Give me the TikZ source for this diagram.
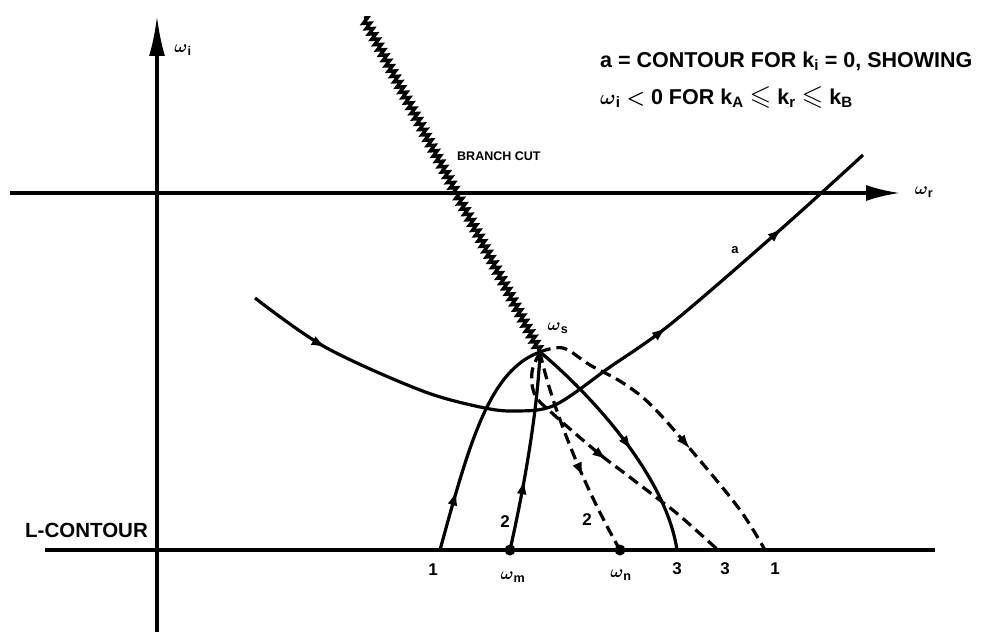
\documentclass[tikz,border=0pt]{standalone}
\usepackage{amssymb}
\usepackage{fontspec}
\setmainfont{Liberation Sans}
\usetikzlibrary{arrows.meta,decorations.pathmorphing,decorations.markings}
\begin{document}
\begin{tikzpicture}[x=1pt,y=-1pt,
  axis/.style={line width=3.2pt},
  curve/.style={line width=3.2pt},
  dcurve/.style={line width=3.2pt, dash pattern=on 11pt off 6pt},
  midarrow/.style={postaction={decorate,decoration={markings,mark=at position #1 with {\arrow{Latex[length=15pt,width=10pt]}}}}},
  lbl/.style={font=\fontsize{17}{20}\selectfont\bfseries\boldmath, inner sep=0pt},
  wlbl/.style={font=\fontsize{18}{20}\selectfont\bfseries\boldmath, inner sep=0pt},
  big/.style={font=\fontsize{21.5}{25}\selectfont\bfseries\boldmath, inner sep=0pt},
]
\useasboundingbox (0,0) rectangle (990,634);
% key points
\coordinate (ws) at (540,352);
\coordinate (p1) at (440,550);
\coordinate (wm) at (510,550);
\coordinate (wn) at (620,550);
\coordinate (p3a) at (677,550);
\coordinate (p3b) at (718,550);
\coordinate (p1b) at (765,550);
\coordinate (vb) at (157,632);
\coordinate (vt) at (157,16);
\coordinate (hl) at (10,193);
\coordinate (hr) at (900,193);
\coordinate (ll) at (45,550);
\coordinate (lr) at (935,550);
\coordinate (bc) at (364,18);
% axes
\draw[axis,-{Latex[length=40pt,width=16pt]}] (vb) -- (vt);
\draw[axis,-{Latex[length=34pt,width=16pt]}] (hl) -- (hr);
\draw[axis] (ll) -- (lr);
% branch cut
\draw[line width=3.4pt, decorate, decoration={zigzag, segment length=6pt, amplitude=3.2pt}] (bc) -- (ws);
% contour a
\draw[curve, midarrow=0.12, midarrow=0.64, midarrow=0.85]
  plot[smooth,tension=0.55] coordinates {(255,298) (325,347) (420,390) (480,407) (515,411) (555,405) (610,367) (672,323) (780,230) (863,155)};
% solid contours
\draw[curve, midarrow=0.27] (p1) .. controls (470,440) and (490,370) .. (ws);
\draw[curve, midarrow=0.36] (wm) .. controls (528,470) and (538,400) .. (ws);
\draw[curve, midarrow=0.55] (ws) .. controls (580,385) and (665,470) .. (p3a);
% dashed contours
\draw[dcurve, midarrow=0.62] (ws) .. controls (550,400) and (580,480) .. (wn);
\draw[dcurve, midarrow=0.5] plot[smooth,tension=0.6] coordinates {(540,352) (532,372) (535,395) (552,413) (597,452) (627,475) (657,498) (680,516) (718,550)};
\draw[dcurve, midarrow=0.6] plot[smooth,tension=0.6] coordinates {(540,352) (563,348) (590,365) (623,383) (653,407) (697,457) (740,510) (765,550)};
% points
\fill (wm) circle[radius=5.5pt];
\fill (wn) circle[radius=5.5pt];
% labels
\node[wlbl] (li) at (183,50) {$\omega$\textsubscript{i}};
\node[wlbl] (lr2) at (924,192) {$\omega$\textsubscript{r}};
\node[wlbl] (ls) at (558,328) {$\omega$\textsubscript{s}};
\node[lbl, font=\fontsize{12.5}{15}\selectfont\bfseries, anchor=base west] (bcl) at (457,160) {BRANCH CUT};
\node[lbl, font=\fontsize{20.5}{22}\selectfont\bfseries, anchor=base west] (lc) at (25,537) {L-CONTOUR};
\node[big, anchor=base west] (t1) at (600,67) {a = CONTOUR FOR k\textsubscript{i} = 0, SHOWING};
\node[big, anchor=base west] (t2) at (600,104) {$\omega$\textsubscript{i} $<$ 0 FOR k\textsubscript{A} \scalebox{1.3}{$\leqslant$} k\textsubscript{r} \scalebox{1.3}{$\leqslant$} k\textsubscript{B}};
\node[lbl, font=\fontsize{13}{14}\selectfont\bfseries] (la) at (735,250) {a};
\node[lbl] (n1) at (433,570) {1};
\node[lbl] (n2a) at (505,522) {2};
\node[lbl] (n2b) at (587,520) {2};
\node[wlbl] (nwm) at (513,577) {$\omega$\textsubscript{m}};
\node[wlbl] (nwn) at (621,575) {$\omega$\textsubscript{n}};
\node[lbl] (n3a) at (677,569) {3};
\node[lbl] (n3b) at (725,569) {3};
\node[lbl] (n1b) at (775,569) {1};
\end{tikzpicture}
\end{document}
